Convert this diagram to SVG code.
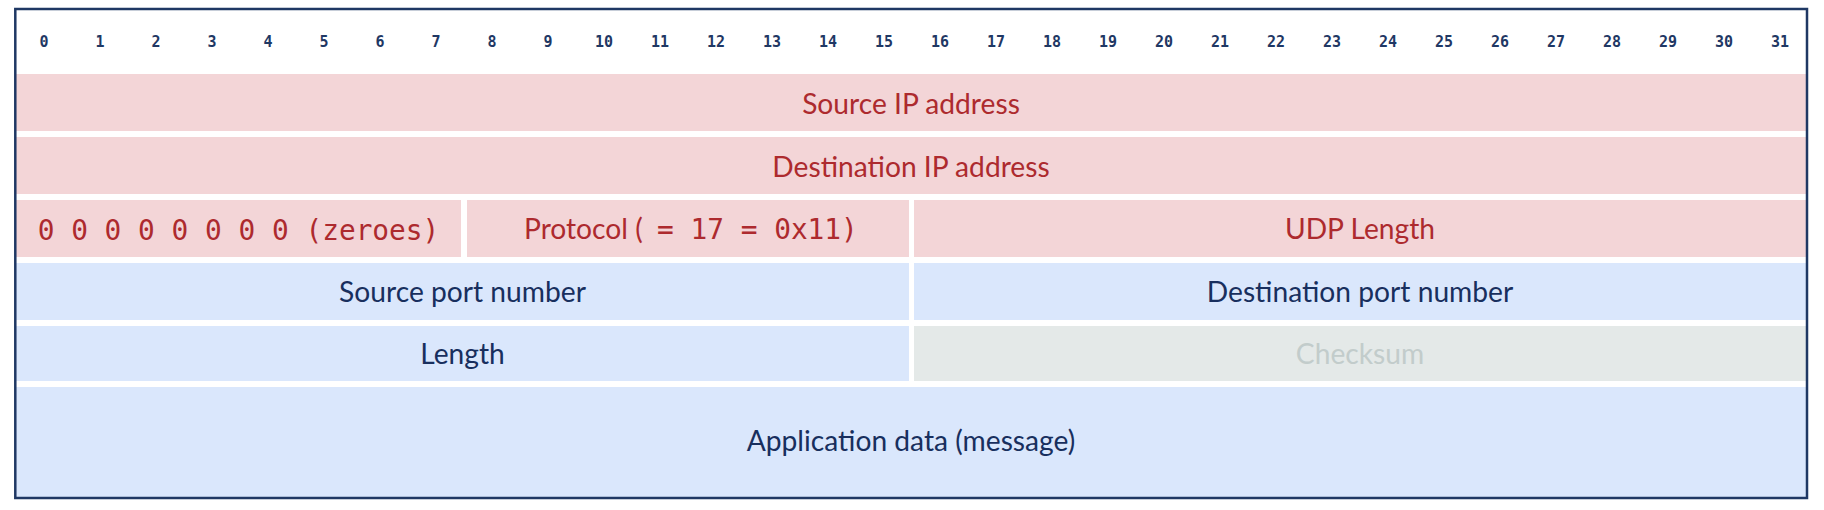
<svg xmlns="http://www.w3.org/2000/svg" width="1824" height="510" viewBox="0 0 1824 510">
  <style>
    .bit { font-family: "DejaVu Sans Mono", "Liberation Mono", monospace; font-size: 15px; font-weight: bold; fill: #1F3864; text-anchor: middle; }
    .pink { fill: #F3D5D7; }
    .blue { fill: #DAE7FC; }
    .gray { fill: #E4E9E8; }
    .lbl { font-family: Lato, "Open Sans", "Liberation Sans", sans-serif; font-size: 28.2px; text-anchor: middle; }
    .sans { font-family: Lato, "Open Sans", "Liberation Sans", sans-serif; font-size: 28.2px; }
    .red { fill: #AD2A2E; }
    .navy { fill: #182F5E; }
    .faint { fill: #C2CCCB; }
    .mono { font-family: "DejaVu Sans Mono", "Liberation Mono", monospace; font-size: 27.8px; }
  </style>
  <rect x="0" y="0" width="1824" height="510" fill="#FFFFFF"/>
  <g id="bit-ruler">
    <text class="bit" x="44" y="47">0</text>
    <text class="bit" x="100" y="47">1</text>
    <text class="bit" x="156" y="47">2</text>
    <text class="bit" x="212" y="47">3</text>
    <text class="bit" x="268" y="47">4</text>
    <text class="bit" x="324" y="47">5</text>
    <text class="bit" x="380" y="47">6</text>
    <text class="bit" x="436" y="47">7</text>
    <text class="bit" x="492" y="47">8</text>
    <text class="bit" x="548" y="47">9</text>
    <text class="bit" x="604" y="47">10</text>
    <text class="bit" x="660" y="47">11</text>
    <text class="bit" x="716" y="47">12</text>
    <text class="bit" x="772" y="47">13</text>
    <text class="bit" x="828" y="47">14</text>
    <text class="bit" x="884" y="47">15</text>
    <text class="bit" x="940" y="47">16</text>
    <text class="bit" x="996" y="47">17</text>
    <text class="bit" x="1052" y="47">18</text>
    <text class="bit" x="1108" y="47">19</text>
    <text class="bit" x="1164" y="47">20</text>
    <text class="bit" x="1220" y="47">21</text>
    <text class="bit" x="1276" y="47">22</text>
    <text class="bit" x="1332" y="47">23</text>
    <text class="bit" x="1388" y="47">24</text>
    <text class="bit" x="1444" y="47">25</text>
    <text class="bit" x="1500" y="47">26</text>
    <text class="bit" x="1556" y="47">27</text>
    <text class="bit" x="1612" y="47">28</text>
    <text class="bit" x="1668" y="47">29</text>
    <text class="bit" x="1724" y="47">30</text>
    <text class="bit" x="1780" y="47">31</text>
  </g>
  <g id="source-ip">
    <rect class="pink" x="16" y="74" width="1790" height="57"/>
    <text class="lbl red" x="911" y="114">Source IP address</text>
  </g>
  <g id="destination-ip">
    <rect class="pink" x="16" y="137" width="1790" height="57"/>
    <text class="lbl red" x="911" y="177">Destination IP address</text>
  </g>
  <g id="zeroes">
    <rect class="pink" x="16" y="200" width="445" height="57"/>
    <text class="mono red" x="238.5" y="240" text-anchor="middle">0 0 0 0 0 0 0 0 (zeroes)</text>
  </g>
  <g id="protocol">
    <rect class="pink" x="467" y="200" width="442" height="57"/>
    <text class="sans red" x="524" y="239">Protocol (<tspan class="mono" x="657">= 17 = 0x11)</tspan></text>
  </g>
  <g id="udp-length">
    <rect class="pink" x="914" y="200" width="892" height="57"/>
    <text class="lbl red" x="1360" y="239">UDP Length</text>
  </g>
  <g id="source-port">
    <rect class="blue" x="16" y="263" width="893" height="57"/>
    <text class="lbl navy" x="462.5" y="302">Source port number</text>
  </g>
  <g id="destination-port">
    <rect class="blue" x="914" y="263" width="892" height="57"/>
    <text class="lbl navy" x="1360" y="302">Destination port number</text>
  </g>
  <g id="length">
    <rect class="blue" x="16" y="326" width="893" height="55"/>
    <text class="lbl navy" x="462.5" y="364">Length</text>
  </g>
  <g id="checksum">
    <rect class="gray" x="914" y="326" width="892" height="55"/>
    <text class="lbl faint" x="1360" y="364">Checksum</text>
  </g>
  <g id="application-data">
    <rect class="blue" x="16" y="387" width="1790" height="110"/>
    <text class="lbl navy" x="911" y="451">Application data (message)</text>
  </g>
  <g id="connectors"/>
  <g id="frame">
    <rect x="15.3" y="9" width="1791.7" height="489" fill="none" stroke="#1F3864" stroke-width="2.5"/>
  </g>
</svg>
